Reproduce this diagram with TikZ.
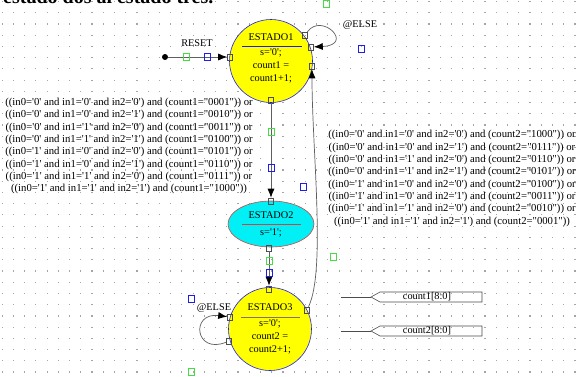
\documentclass[tikz,border=0pt]{standalone}
\usepackage{fontspec}
\newfontfamily\tms{Liberation Serif}
\usetikzlibrary{arrows.meta,shapes.geometric}
\definecolor{gridc}{RGB}{165,165,165}
\definecolor{linec}{RGB}{95,95,95}
\definecolor{stY}{RGB}{255,255,0}
\definecolor{stC}{RGB}{0,240,245}
\definecolor{bluec}{RGB}{30,30,235}
\definecolor{greenc}{RGB}{70,220,70}
\definecolor{redc}{RGB}{200,70,70}
\definecolor{sepc}{RGB}{130,115,90}
\tikzset{
  port/.style={rectangle,draw=black!70,line width=0.6pt,minimum width=5pt,minimum height=6pt,inner sep=0pt},
  hb/.style={rectangle,draw=bluec,line width=0.8pt,minimum width=6pt,minimum height=7pt,inner sep=0pt},
  hg/.style={rectangle,draw=greenc,line width=0.8pt,minimum width=6pt,minimum height=7pt,inner sep=0pt},
  trans/.style={draw=linec,line width=0.7pt,-{Latex[length=9pt,width=7pt,color=black]}},
  lbl/.style={font=\tms\fontsize{10.3}{13}\selectfont,inner sep=0pt,align=center},
  cond/.style={font=\tms\fontsize{10.7}{12.35}\selectfont,inner sep=0pt,align=center},
  sig/.style={draw=black!70,line width=0.6pt}
}
\begin{document}
\begin{tikzpicture}[x=1pt,y=-1pt]
\useasboundingbox (0,0) rectangle (584,376);
\fill[white] (0,0) rectangle (584,376);
% dot grid
\foreach \i in {0,...,51}{
  \foreach \j in {0,...,33}{
    \fill[gridc] ({2.2+11.23*\i-0.6},{1.5+11.23*\j-0.6}) rectangle ++(1.2,1.2);
  }
}
% heading, cut off at the top edge as in the reference
\node[anchor=base west,font=\tms\bfseries\fontsize{20}{20}\selectfont,inner sep=0pt] (head) at (3,3.2) {estado dos al estado tres.};

% states
\node[circle,draw=bluec,fill=stY,minimum size=83pt,inner sep=0pt,line width=0.6pt] (e1) at (271,61) {};
\node[lbl] (e1t) at (271,37) {ESTADO1};
\draw[bluec,line width=0.8pt] (242,46) -- (302,46);
\node[lbl] (e1b) at (271,66) {s='0';\\count1 =\\count1+1;};

\node[ellipse,draw=redc,fill=stC,minimum width=86pt,minimum height=46pt,inner sep=0pt,line width=0.6pt] (e2) at (271,224) {};
\node[lbl] (e2t) at (271,215) {ESTADO2};
\draw[redc,line width=0.8pt] (242,224) -- (301,224);
\node[lbl] (e2b) at (271,233) {s='1';};

\node[circle,draw=bluec,fill=stY,minimum size=83pt,inner sep=0pt,line width=0.6pt] (e3) at (270,329) {};
\node[lbl] (e3t) at (270,307) {ESTADO3};
\draw[sepc,line width=0.8pt] (241,317) -- (300,317);
\node[lbl] (e3b) at (270,336.5) {s='0';\\count2 =\\count2+1;};

% ports
\node[port] (p1r) at (230,57) {};
\node[port] (p1o) at (305,35) {};
\node[port] (p1i) at (311,47) {};
\node[port] (p1e) at (312,66) {};
\node[port] (p1b) at (271,100) {};
\node[port] (p2t) at (271,201) {};
\node[port] (p2b) at (269,248) {};
\node[port] (p3t) at (269,289) {};
\node[port] (p3u) at (230,317) {};
\node[port] (p3l) at (229,341) {};
\node[port] (p3o) at (307,310) {};

% reset
\node[circle,fill=black,minimum size=6pt,inner sep=0pt] (rd) at (165,57) {};
\draw[trans] (rd) -- (p1r);
\node[lbl] (reset) at (197,43) {RESET};

% transitions
\draw[trans] (p1o) .. controls (322,12) and (355,45) .. (p1i);
\node[lbl] (else1) at (360,25) {@ELSE};
\draw[trans] (p1b) -- (p2t);
\draw[trans] (p2b) -- (p3t);
\draw[trans] (p3l) .. controls (195,355) and (190,312) .. (p3u);
\node[lbl] (else3) at (214,308) {@ELSE};
\draw[trans] (p3o) .. controls (326,270) and (312,150) .. (p1e);

% conditions
\node[cond] (c12) at (129,146) {((in0='0' and in1='0' and in2='0') and (count1="0001")) or\\
((in0='0' and in1='0' and in2='1') and (count1="0010")) or\\
((in0='0' and in1='1' and in2='0') and (count1="0011")) or\\
((in0='0' and in1='1' and in2='1') and (count1="0100")) or\\
((in0='1' and in1='0' and in2='0') and (count1="0101")) or\\
((in0='1' and in1='0' and in2='1') and (count1="0110")) or\\
((in0='1' and in1='1' and in2='0') and (count1="0111")) or\\
((in0='1' and in1='1' and in2='1') and (count1="1000"))};
\node[cond] (c31) at (452,178.5) {((in0='0' and in1='0' and in2='0') and (count2="1000")) or\\
((in0='0' and in1='0' and in2='1') and (count2="0111")) or\\
((in0='0' and in1='1' and in2='0') and (count2="0110")) or\\
((in0='0' and in1='1' and in2='1') and (count2="0101")) or\\
((in0='1' and in1='0' and in2='0') and (count2="0100")) or\\
((in0='1' and in1='0' and in2='1') and (count2="0011")) or\\
((in0='1' and in1='1' and in2='0') and (count2="0010")) or\\
((in0='1' and in1='1' and in2='1') and (count2="0001"))};

% handles
\node[hg] (g1) at (186,57) {};
\node[hb] (b1) at (207,57) {};
\node[hg] (g2) at (326,4) {};
\node[hb] (b2) at (361,49) {};
\node[hg] (g3) at (271,132) {};
\node[hb] (b3) at (271,168) {};
\node[hb] (b4) at (303,187) {};
\node[hg] (g4) at (333,257) {};
\node[hg] (g5) at (269,261) {};
\node[hb] (b5) at (269,273) {};
\node[hb] (b6) at (191,299) {};
\node[hg] (g6) at (191,372) {};

% output signals
\coordinate (s1a) at (341,297);
\coordinate (s1t) at (371,297);
\draw[sig] (s1a) -- (s1t);
\draw[sig] (s1t) -- (380,292) -- (482,292) -- (482,302) -- (380,302) -- cycle;
\node[lbl] (c1) at (427,297) {count1[8:0]};
\coordinate (s2a) at (341,331);
\coordinate (s2t) at (371,331);
\draw[sig] (s2a) -- (s2t);
\draw[sig] (s2t) -- (380,326) -- (482,326) -- (482,336) -- (380,336) -- cycle;
\node[lbl] (c2) at (427,331) {count2[8:0]};
\end{tikzpicture}
\end{document}
